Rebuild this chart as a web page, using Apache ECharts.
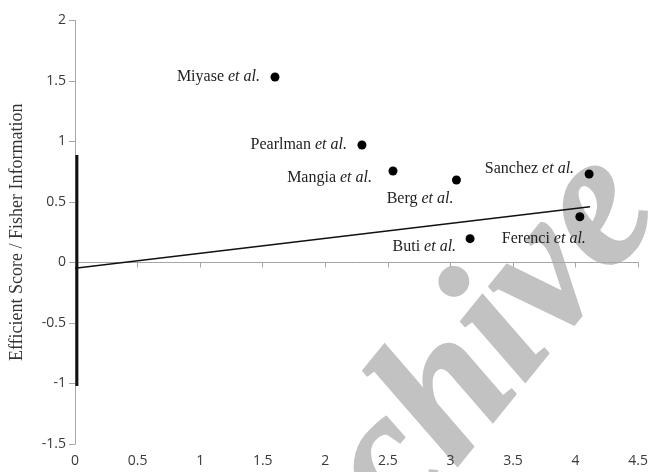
<!DOCTYPE html>
<html>
<head>
<meta charset="utf-8">
<script src="https://cdn.jsdelivr.net/npm/echarts@6/dist/echarts.min.js"></script>
<style>html,body{margin:0;padding:0;background:#fff}#c{width:651px;height:472px}</style>
</head>
<body>
<div id="c"></div>
<script>
// ---- data ----
var studies = ['Miyase', 'Pearlman', 'Mangia', 'Berg', 'Sanchez', 'Ferenci', 'Buti'];
var precision = [1.598, 2.293, 2.541, 3.048, 4.108, 4.034, 3.157];   // x
var zScore = [1.533, 0.971, 0.756, 0.682, 0.731, 0.378, 0.197];     // y
var regressionX = [0, 4.115];
var regressionY = [-0.048, 0.461];
var intervalX = [0.015, 0.015];
var intervalY = [-1.02, 0.888];
var xTicks = ['0', '0.5', '1', '1.5', '2', '2.5', '3', '3.5', '4', '4.5'];
var yTicks = ['-1.5', '-1', '-0.5', '0', '0.5', '1', '1.5', '2'];

// ---- label placement (style only) ----
var labelOffset = {
  Miyase:   [-15, 0],
  Pearlman: [-15, 0],
  Mangia:   [-21, 7],
  Berg:     [-3, 19],
  Sanchez:  [-15, -5],
  Ferenci:  [6, 22],
  Buti:     [-14, 8]
};
var R = 4.5;
var serif = '"Liberation Serif", "DejaVu Serif", serif';

var scatterData = studies.map(function (s, i) {
  var o = labelOffset[s];
  return {
    value: [precision[i], zScore[i]],
    name: s,
    label: {
      show: true,
      position: [o[0] + R, o[1] + R],
      align: 'right',
      verticalAlign: 'middle',
      formatter: '{a|' + s + ' }{b|et al.}',
      rich: {
        a: { fontFamily: serif, fontSize: 16, color: '#222' },
        b: { fontFamily: serif, fontSize: 16, fontStyle: 'italic', color: '#222' }
      }
    }
  };
});

var chart = echarts.init(document.getElementById('c'), null, { renderer: 'canvas' });
chart.setOption({
  animation: false,
  backgroundColor: '#fff',
  grid: { left: 73.3, right: 10, top: 20.5, bottom: 28, containLabel: false },
  graphic: [{
    type: 'text',
    z: -10,
    silent: true,
    x: 430, y: 421,
    rotation: 51 * Math.PI / 180,
    style: {
      text: 'Archive',
      fontFamily: serif,
      fontStyle: 'italic',
      fontWeight: 'bold',
      fontSize: 192,
      fill: '#c2c2c2',
      stroke: '#c2c2c2',
      lineWidth: 2,
      align: 'center',
      verticalAlign: 'middle'
    }
  }],
  xAxis: {
    type: 'value', min: 0, max: 4.5, interval: 0.5,
    axisLine: { show: true, lineStyle: { color: '#a6a6a6', width: 1 } },
    axisTick: { show: true, inside: false, length: 5, lineStyle: { color: '#a6a6a6' } },
    splitLine: { show: false },
    axisLabel: {
      margin: 10, fontSize: 14, color: '#3a3a3a', fontFamily: '"Open Sans", sans-serif',
      formatter: function (v) { var i = Math.round(v / 0.5); return xTicks[i]; }
    }
  },
  yAxis: {
    type: 'value', min: -1.5, max: 2, interval: 0.5,
    name: 'Efficient Score / Fisher Information',
    nameLocation: 'middle', nameGap: 49, nameRotate: 90,
    nameTextStyle: { fontFamily: serif, fontSize: 18, color: '#333' },
    axisLine: { show: true, onZero: false, lineStyle: { color: '#a6a6a6', width: 1 } },
    axisTick: { show: true, inside: false, length: 6, lineStyle: { color: '#a6a6a6' } },
    splitLine: { show: false },
    axisLabel: {
      margin: 9, fontSize: 14, color: '#3a3a3a', fontFamily: '"Open Sans", sans-serif',
      formatter: function (v) { var i = Math.round((v + 1.5) / 0.5); return yTicks[i]; }
    }
  },
  series: [
    {
      type: 'line',
      data: regressionX.map(function (x, i) { return [x, regressionY[i]]; }),
      symbol: 'none',
      lineStyle: { color: '#111', width: 1.5 },
      z: 3
    },
    {
      type: 'line',
      data: intervalX.map(function (x, i) { return [x, intervalY[i]]; }),
      symbol: 'none',
      lineStyle: { color: '#111', width: 3 },
      z: 3
    },
    {
      type: 'scatter',
      data: scatterData,
      symbol: 'circle',
      symbolSize: 9,
      itemStyle: { color: '#000', opacity: 1 },
      z: 4
    }
  ]
});
</script>
</body>
</html>
